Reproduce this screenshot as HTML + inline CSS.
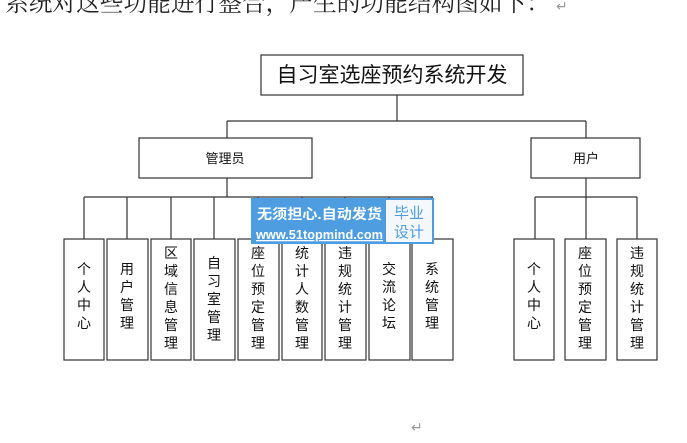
<!DOCTYPE html>
<html><head><meta charset="utf-8"><style>
html,body{margin:0;padding:0;background:#fff;width:687px;height:443px;overflow:hidden}
svg{display:block}
.s{font-family:"Liberation Serif","Noto Serif CJK SC",serif}
.t{font-family:"Liberation Sans","Noto Sans CJK SC",sans-serif;fill:#111}
</style></head><body>
<svg width="687" height="443" xmlns="http://www.w3.org/2000/svg">
<text class="s" x="5" y="11" font-size="24" fill="#222" textLength="545" lengthAdjust="spacingAndGlyphs">系统对这些功能进行整合，产生的功能结构图如下：</text>
<text x="556" y="11" font-size="14" fill="#999" font-family="DejaVu Sans,sans-serif">↵</text>
<text x="411" y="432" font-size="14" fill="#999" font-family="DejaVu Sans,sans-serif">↵</text>
<g stroke="#333" stroke-width="1.2" fill="none">
<rect x="261" y="55" width="262" height="40"/>
<rect x="139" y="138" width="173" height="40"/>
<rect x="531" y="138" width="109" height="40"/>
<path d="M397 95V121M227 121H586M227 121V138M586 121V138"/>
<path d="M227 178V197M84 197H433M586 178V239M535 197H637M535 197V239M637 197V239"/>
<path d="M84 197V239M127 197V239M171 197V239M214 197V239M258 197V239M302 197V239M345 197V239M389 197V239M432 197V239"/>
<rect x="64" y="239" width="40" height="121"/>
<rect x="107" y="239" width="41" height="121"/>
<rect x="151" y="239" width="40" height="121"/>
<rect x="194" y="239" width="41" height="121"/>
<rect x="238" y="239" width="41" height="121"/>
<rect x="282" y="239" width="40" height="121"/>
<rect x="325" y="239" width="41" height="121"/>
<rect x="369" y="239" width="41" height="121"/>
<rect x="412" y="239" width="41" height="121"/>
<rect x="514" y="239" width="40" height="121"/>
<rect x="565" y="239" width="41" height="121"/>
<rect x="617" y="239" width="40" height="121"/>
</g>
<text class="t" x="392" y="82" font-size="21" text-anchor="middle" fill="#222">自习室选座预约系统开发</text>
<text class="t" x="225" y="163" font-size="13" text-anchor="middle">管理员</text>
<text class="t" x="586" y="163" font-size="13" text-anchor="middle">用户</text>
<g class="t" font-size="14" text-anchor="middle">
<text x="84"><tspan x="84" y="274">个</tspan><tspan x="84" dy="18">人</tspan><tspan x="84" dy="18">中</tspan><tspan x="84" dy="18">心</tspan></text>
<text><tspan x="127" y="274">用</tspan><tspan x="127" dy="18">户</tspan><tspan x="127" dy="18">管</tspan><tspan x="127" dy="18">理</tspan></text>
<text><tspan x="171" y="258">区</tspan><tspan x="171" dy="18">域</tspan><tspan x="171" dy="18">信</tspan><tspan x="171" dy="18">息</tspan><tspan x="171" dy="18">管</tspan><tspan x="171" dy="18">理</tspan></text>
<text><tspan x="214" y="268">自</tspan><tspan x="214" dy="18">习</tspan><tspan x="214" dy="18">室</tspan><tspan x="214" dy="18">管</tspan><tspan x="214" dy="18">理</tspan></text>
<text><tspan x="258" y="258">座</tspan><tspan x="258" dy="18">位</tspan><tspan x="258" dy="18">预</tspan><tspan x="258" dy="18">定</tspan><tspan x="258" dy="18">管</tspan><tspan x="258" dy="18">理</tspan></text>
<text><tspan x="302" y="258">统</tspan><tspan x="302" dy="18">计</tspan><tspan x="302" dy="18">人</tspan><tspan x="302" dy="18">数</tspan><tspan x="302" dy="18">管</tspan><tspan x="302" dy="18">理</tspan></text>
<text><tspan x="345" y="258">违</tspan><tspan x="345" dy="18">规</tspan><tspan x="345" dy="18">统</tspan><tspan x="345" dy="18">计</tspan><tspan x="345" dy="18">管</tspan><tspan x="345" dy="18">理</tspan></text>
<text><tspan x="389" y="274">交</tspan><tspan x="389" dy="18">流</tspan><tspan x="389" dy="18">论</tspan><tspan x="389" dy="18">坛</tspan></text>
<text><tspan x="432" y="274">系</tspan><tspan x="432" dy="18">统</tspan><tspan x="432" dy="18">管</tspan><tspan x="432" dy="18">理</tspan></text>
<text><tspan x="534" y="274">个</tspan><tspan x="534" dy="18">人</tspan><tspan x="534" dy="18">中</tspan><tspan x="534" dy="18">心</tspan></text>
<text><tspan x="585" y="258">座</tspan><tspan x="585" dy="18">位</tspan><tspan x="585" dy="18">预</tspan><tspan x="585" dy="18">定</tspan><tspan x="585" dy="18">管</tspan><tspan x="585" dy="18">理</tspan></text>
<text><tspan x="637" y="258">违</tspan><tspan x="637" dy="18">规</tspan><tspan x="637" dy="18">统</tspan><tspan x="637" dy="18">计</tspan><tspan x="637" dy="18">管</tspan><tspan x="637" dy="18">理</tspan></text>
</g>
<rect x="251" y="198" width="183" height="46" fill="#4d9de0"/>
<rect x="386" y="200" width="46" height="42" fill="#f4f8fc"/>
<g font-family="Liberation Sans,Noto Sans CJK SC,sans-serif" font-weight="bold">
<text x="257" y="219" font-size="14" fill="#fff" textLength="125" lengthAdjust="spacingAndGlyphs">无须担心.自动发货</text>
<text x="256" y="239" font-size="12.5" fill="#fff" text-decoration="underline" textLength="127" lengthAdjust="spacingAndGlyphs">www.51topmind.com</text>
<text x="409" y="218" font-size="15" fill="#4d9de0" text-anchor="middle" font-weight="normal">毕业</text>
<text x="409" y="237" font-size="15" fill="#4d9de0" text-anchor="middle" font-weight="normal">设计</text>
</g>
</svg>
</body></html>
